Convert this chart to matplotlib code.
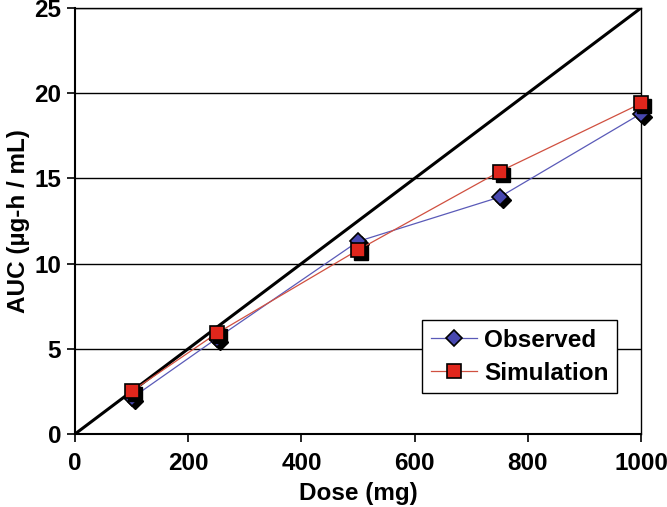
import matplotlib
matplotlib.use('Agg')
import matplotlib.pyplot as plt
import matplotlib.transforms as mtransforms

# data
dose = [100, 250, 500, 750, 1000]
observed = [2.1, 5.6, 11.3, 13.9, 18.8]
simulation = [2.5, 5.9, 10.8, 15.4, 19.4]
unity_x = [0, 1000]
unity_y = [0, 25]

plt.rcParams['font.family'] = ['Liberation Sans', 'DejaVu Sans']
plt.rcParams['font.weight'] = 'bold'
plt.rcParams['font.size'] = 17.5

fig = plt.figure(figsize=(6.67, 5.07), dpi=100)
ax = fig.add_axes([75/667, 1 - 434/507, 566/667, 426/507])

# unity line
ax.plot(unity_x, unity_y, color='black', linewidth=2.2, zorder=3)

blue = '#4848b0'
red = '#e0261c'
shadow = mtransforms.offset_copy(ax.transData, fig=fig, x=3, y=-3, units='dots')

# observed
ax.plot(dose, observed, color='#5a5ab8', linewidth=0.9, zorder=4)
ax.plot(dose, observed, linestyle='none', marker='D', markersize=8.5,
        color='black', transform=shadow, zorder=5, clip_on=False)
ax.plot(dose, observed, linestyle='none', marker='D', markersize=8.5,
        markerfacecolor=blue, markeredgecolor='black', markeredgewidth=1.2,
        zorder=6, clip_on=False)

# simulation
ax.plot(dose, simulation, color='#d05040', linewidth=0.9, zorder=7)
ax.plot(dose, simulation, linestyle='none', marker='s', markersize=10,
        color='black', transform=shadow, zorder=8, clip_on=False)
ax.plot(dose, simulation, linestyle='none', marker='s', markersize=10,
        markerfacecolor=red, markeredgecolor='black', markeredgewidth=1.2,
        zorder=9, clip_on=False)

# legend proxies
h1, = ax.plot([], [], color='#5a5ab8', linewidth=0.9, marker='D', markersize=8.5,
              markerfacecolor=blue, markeredgecolor='black', markeredgewidth=1.2)
h2, = ax.plot([], [], color='#d05040', linewidth=0.9, marker='s', markersize=10,
              markerfacecolor=red, markeredgecolor='black', markeredgewidth=1.2)
leg = ax.legend([h1, h2], ['Observed', 'Simulation'], loc='lower right',
                bbox_to_anchor=(0.958, 0.096), fancybox=False, framealpha=1,
                edgecolor='black', handlelength=1.9, handletextpad=0.3,
                borderpad=0.35, labelspacing=0.4, borderaxespad=0)
leg.get_frame().set_linewidth(1.0)
leg.set_zorder(20)

ax.set_xlim(0, 1000)
ax.set_ylim(0, 25)
ax.set_xticks([0, 200, 400, 600, 800, 1000])
ax.set_yticks([0, 5, 10, 15, 20, 25])
ax.yaxis.grid(True, color='black', linewidth=1.0)
ax.set_axisbelow(True)
ax.tick_params(direction='out', length=6, width=1.2, pad=4)
ax.tick_params(axis='x', pad=7)

for side in ['left', 'bottom']:
    ax.spines[side].set_linewidth(1.5)
for side in ['right', 'top']:
    ax.spines[side].set_linewidth(1.0)

ax.set_xlabel('Dose (mg)', fontweight='bold', labelpad=5)
ax.set_ylabel('AUC (µg-h / mL)', fontweight='bold', labelpad=3)

fig.savefig('out.png', dpi=100)
